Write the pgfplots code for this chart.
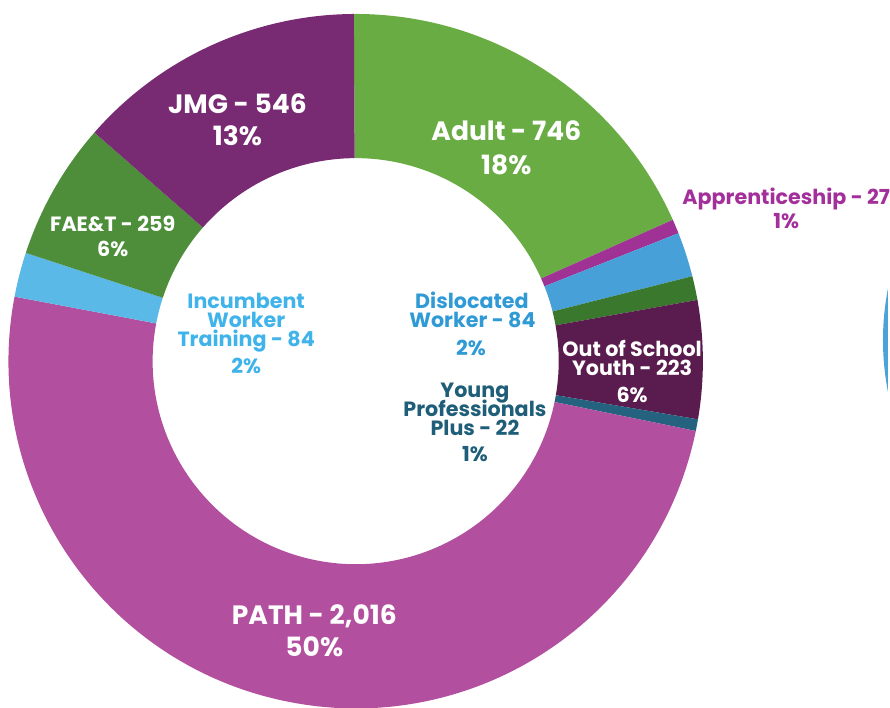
\documentclass[border=0pt]{standalone}
\usepackage{pgfplots}
\pgfplotsset{compat=1.18}
\usepackage{pgfplotstable}
\usepackage{fontspec}
\setmainfont{Poppins}[BoldFont = * Bold]
\definecolor{cAdult}{HTML}{68AC43}
\definecolor{cAppr}{HTML}{A03296}
\definecolor{cDW}{HTML}{48A0D8}
\definecolor{cDG}{HTML}{3A782D}
\definecolor{cOSY}{HTML}{5A1B4E}
\definecolor{cYPP}{HTML}{246280}
\definecolor{cPATH}{HTML}{B24F9E}
\definecolor{cIWT}{HTML}{5AB9E6}
\definecolor{cFAE}{HTML}{4E8E3A}
\definecolor{cJMG}{HTML}{782A72}
\definecolor{tIWT}{HTML}{40B4EA}
\definecolor{tDW}{HTML}{2F9AD6}
\definecolor{tYPP}{HTML}{1F5E78}
\definecolor{tAppr}{HTML}{A3309A}
\definecolor{cOther}{HTML}{4BA3DA}

\pgfplotstableread[col sep=comma]{
name,value,color
Adult,746,cAdult
Apprenticeship,27,cAppr
Dislocated Worker,84,cDW
Unlabelled,45,cDG
Out of School Youth,223,cOSY
Young Professionals Plus,22,cYPP
PATH,2016,cPATH
Incumbent Worker Training,84,cIWT
FAET,259,cFAE
JMG,546,cJMG
}\donut

\def\cx{356.5}\def\cy{347}\def\Ro{348}\def\Ri{203.5}

\begin{document}
\begin{tikzpicture}
% totals and angles from the table
\xdef\total{0}
\foreach \i in {0,...,9}{%
  \pgfplotstablegetelem{\i}{value}\of\donut
  \pgfmathsetmacro\t{\total+\pgfplotsretval}\xdef\total{\t}}
\xdef\cum{0}
\foreach \i in {0,...,9}{%
  \pgfplotstablegetelem{\i}{value}\of\donut \let\v\pgfplotsretval
  \pgfplotstablegetelem{\i}{color}\of\donut
  \expandafter\xdef\csname col\i\endcsname{\pgfplotsretval}%
  \pgfmathsetmacro\aS{90.3-\cum/\total*360}%
  \pgfmathsetmacro\nc{\cum+\v}%
  \pgfmathsetmacro\aE{90.3-\nc/\total*360}%
  \pgfmathsetmacro\xa{\cx+\Ro*cos(\aS)}%
  \pgfmathsetmacro\ya{\cy+\Ro*sin(\aS)}%
  \pgfmathsetmacro\xb{\cx+\Ri*cos(\aE)}%
  \pgfmathsetmacro\yb{\cy+\Ri*sin(\aE)}%
  \expandafter\xdef\csname aS\i\endcsname{\aS}%
  \expandafter\xdef\csname aE\i\endcsname{\aE}%
  \expandafter\xdef\csname xa\i\endcsname{\xa}%
  \expandafter\xdef\csname ya\i\endcsname{\ya}%
  \expandafter\xdef\csname xb\i\endcsname{\xb}%
  \expandafter\xdef\csname yb\i\endcsname{\yb}%
  \xdef\cum{\nc}}
\begin{axis}[x=1pt, y=1pt, xmin=0, xmax=890, ymin=0, ymax=709,
  hide axis, scale only axis, clip=false]
\path (axis cs:0,0) rectangle (axis cs:890,709);
\begin{scope}
\clip (axis cs:0,0) rectangle (axis cs:890,709);
\fill[cOther] (axis cs:1153,368) circle[radius=268];
\pgfplotsinvokeforeach{0,...,9}{%
  \fill[\csname col#1\endcsname] (axis cs:\csname xa#1\endcsname,\csname ya#1\endcsname)
     arc[start angle=\csname aS#1\endcsname, end angle=\csname aE#1\endcsname, radius=\Ro]
     -- (axis cs:\csname xb#1\endcsname,\csname yb#1\endcsname)
     arc[start angle=\csname aE#1\endcsname, end angle=\csname aS#1\endcsname, radius=\Ri] -- cycle;
}
\end{scope}
\tikzset{lb/.style={inner sep=0pt, text height=0.7em, text depth=0pt, anchor=center, font=\fontsize{26.6}{28}\selectfont\bfseries},
  ls/.style={inner sep=0pt, text height=0.7em, text depth=0pt, anchor=center, font=\fontsize{20.7}{22}\selectfont\bfseries}}
\node[lb, white] at (axis cs:238,599) {JMG - 546};
\node[lb, white] at (axis cs:238,566.3) {13\%};
\node[lb, white] at (axis cs:507.5,572) {Adult - 746};
\node[lb, white] at (axis cs:507.5,538) {18\%};
\node[lb, white] at (axis cs:315,87) {PATH - 2,016};
\node[lb, white] at (axis cs:315,54) {50\%};
\node[ls, tAppr] at (axis cs:788,507.2) {Apprenticeship - 27};
\node[ls, tAppr] at (axis cs:788,483) {1\%};
\node[ls, white] at (axis cs:113,480.5) {FAE\&T - 259};
\node[ls, white] at (axis cs:113,455.5) {6\%};
\node[ls, tIWT] at (axis cs:246.7,403) {Incumbent};
\node[ls, tIWT] at (axis cs:246.7,384) {Worker};
\node[ls, tIWT] at (axis cs:246.7,365.5) {Training - 84};
\node[ls, tIWT] at (axis cs:246.7,338) {2\%};
\node[ls, tDW] at (axis cs:473,403) {Dislocated};
\node[ls, tDW] at (axis cs:473.5,384) {Worker - 84};
\node[ls, tDW] at (axis cs:472,356.3) {2\%};
\node[ls, white] at (axis cs:633.5,354.7) {Out of School};
\node[ls, white] at (axis cs:633.5,336.3) {Youth - 223};
\node[ls, white] at (axis cs:633.5,309) {6\%};
\node[ls, tYPP] at (axis cs:476,313.7) {Young};
\node[ls, tYPP] at (axis cs:476,295) {Professionals};
\node[ls, tYPP] at (axis cs:476,276.3) {Plus - 22};
\node[ls, tYPP] at (axis cs:476,250) {1\%};
\end{axis}
\end{tikzpicture}
\end{document}
